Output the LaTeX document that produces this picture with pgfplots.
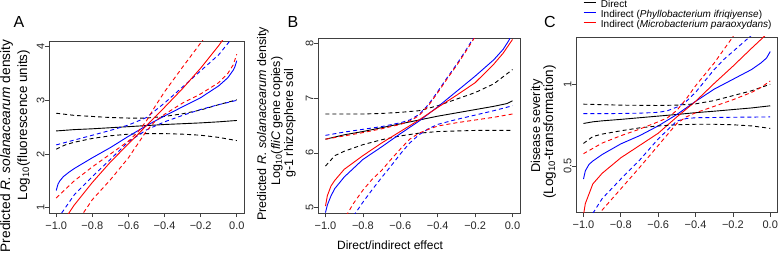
\documentclass[border=0pt]{standalone}
\usepackage{pgfplots}
\pgfplotsset{compat=1.18}
\usepackage{fontspec}
\setmainfont{Liberation Sans}
\definecolor{rblue}{RGB}{0,0,255}
\definecolor{rred}{RGB}{255,0,0}
\pgfplotsset{
  panel/.style={
    scale only axis,
    axis line style={black!75, line width=0.8pt},
    tick style={black!75, line width=0.7pt},
    tick align=outside,
    major tick length=4pt,
    xtick pos=bottom, ytick pos=left,
    xmin=-1.04, xmax=0.04,
    xtick={-1,-0.8,-0.6,-0.4,-0.2,0},
    xticklabels={−1.0,−0.8,−0.6,−0.4,−0.2,0.0},
    ticklabel style={font=\fontsize{11}{11}\selectfont, text=black!85},
    yticklabel style={rotate=90, anchor=south},
    yticklabel shift=-3pt,
    xticklabel style={anchor=north, yshift=-1pt},
    every axis plot/.append style={line width=0.9pt},
  },
  dsh/.style={dash pattern=on 4pt off 3pt},
}
\begin{document}
\begin{tikzpicture}[x=1pt,y=1pt]
\useasboundingbox (0,0) rectangle (778,252);
% ---------------- Panel A ----------------
\begin{axis}[panel, at={(49pt,39pt)}, anchor=south west, width=195pt, height=172pt,
  ymin=0.901, ymax=4.106, ytick={1,2,3,4}, yticklabels={1,2,3,4}]
\addplot[black] coordinates {(-1,2.43) (-0.9,2.455) (-0.8,2.47) (-0.7,2.49) (-0.6,2.51) (-0.5,2.53) (-0.4,2.55) (-0.3,2.565) (-0.2,2.58) (-0.1,2.60) (0,2.625)};
\addplot[black,dsh] coordinates {(-1,2.76) (-0.9,2.72) (-0.8,2.70) (-0.7,2.68) (-0.6,2.67) (-0.5,2.67) (-0.4,2.70) (-0.3,2.75) (-0.2,2.82) (-0.1,2.92) (0,3.01)};
\addplot[black,dsh] coordinates {(-1,2.09) (-0.95,2.17) (-0.9,2.22) (-0.8,2.29) (-0.7,2.34) (-0.6,2.37) (-0.5,2.38) (-0.4,2.38) (-0.3,2.37) (-0.2,2.35) (-0.1,2.31) (0,2.25)};
\addplot[rblue] coordinates {(-1,1.32) (-0.99,1.44) (-0.98,1.50) (-0.96,1.58) (-0.93,1.66) (-0.9,1.73) (-0.8,1.93) (-0.7,2.12) (-0.6,2.33) (-0.5,2.53) (-0.4,2.71) (-0.3,2.88) (-0.2,3.05) (-0.1,3.27) (-0.05,3.42) (-0.02,3.56) (-0.01,3.63) (0,3.74)};
\addplot[rblue,dsh] coordinates {(-1,2.17) (-0.9,2.26) (-0.8,2.35) (-0.7,2.44) (-0.6,2.54) (-0.5,2.68) (-0.4,2.95) (-0.3,3.25) (-0.2,3.55) (-0.1,3.85) (-0.04,4.1) (0,4.25)};
\addplot[rblue,dsh] coordinates {(-0.97,0.9) (-0.9,1.24) (-0.8,1.58) (-0.7,1.90) (-0.6,2.23) (-0.5,2.45) (-0.4,2.60) (-0.3,2.72) (-0.2,2.83) (-0.1,2.92) (0,3.0)};
\addplot[rred] coordinates {(-1,0.55) (-0.9,1.05) (-0.8,1.47) (-0.7,1.85) (-0.6,2.19) (-0.5,2.53) (-0.4,2.87) (-0.3,3.22) (-0.2,3.60) (-0.1,4.02) (0,4.5)};
\addplot[rred,dsh] coordinates {(-1,1.18) (-0.9,1.50) (-0.8,1.76) (-0.7,2.0) (-0.6,2.24) (-0.55,2.40) (-0.5,2.62) (-0.45,2.90) (-0.4,3.16) (-0.3,3.62) (-0.2,4.07) (-0.15,4.3)};
\addplot[rred,dsh] coordinates {(-0.87,0.8) (-0.8,1.15) (-0.7,1.52) (-0.6,1.93) (-0.55,2.18) (-0.5,2.43) (-0.45,2.62) (-0.4,2.74) (-0.3,2.95) (-0.2,3.12) (-0.1,3.33) (-0.05,3.50) (-0.02,3.66) (0,3.86)};
\end{axis}
% ---------------- Panel B ----------------
\begin{axis}[panel, at={(318pt,38.7pt)}, anchor=south west, width=202pt, height=175pt,
  ymin=4.898, ymax=8.091, ytick={5,6,7,8}, yticklabels={5,6,7,8}]
\addplot[black] coordinates {(-1,6.25) (-0.9,6.33) (-0.8,6.39) (-0.7,6.46) (-0.6,6.53) (-0.5,6.60) (-0.4,6.67) (-0.3,6.73) (-0.2,6.79) (-0.1,6.85) (-0.03,6.90) (0,6.95)};
\addplot[black,dsh] coordinates {(-1,6.71) (-0.9,6.71) (-0.8,6.71) (-0.7,6.72) (-0.6,6.74) (-0.5,6.77) (-0.4,6.86) (-0.3,6.98) (-0.2,7.10) (-0.1,7.26) (0,7.52)};
\addplot[black,dsh] coordinates {(-1,5.76) (-0.95,5.95) (-0.9,6.03) (-0.8,6.15) (-0.7,6.24) (-0.6,6.31) (-0.5,6.36) (-0.4,6.39) (-0.3,6.40) (-0.2,6.41) (0,6.41)};
\addplot[rblue] coordinates {(-1,4.91) (-0.99,5.05) (-0.97,5.22) (-0.95,5.35) (-0.9,5.56) (-0.8,5.88) (-0.7,6.11) (-0.6,6.35) (-0.5,6.58) (-0.4,6.84) (-0.3,7.12) (-0.2,7.40) (-0.1,7.70) (-0.05,7.89) (-0.02,8.05) (0,8.2)};
\addplot[rblue,dsh] coordinates {(-1,6.32) (-0.9,6.38) (-0.8,6.43) (-0.7,6.48) (-0.6,6.55) (-0.55,6.60) (-0.5,6.70) (-0.45,6.88) (-0.4,7.12) (-0.35,7.37) (-0.3,7.61) (-0.25,7.87) (-0.2,8.15)};
\addplot[rblue,dsh] coordinates {(-0.85,4.85) (-0.8,5.10) (-0.75,5.33) (-0.7,5.55) (-0.65,5.76) (-0.6,5.98) (-0.55,6.18) (-0.5,6.33) (-0.45,6.44) (-0.4,6.52) (-0.3,6.61) (-0.2,6.69) (-0.1,6.77) (0,6.86)};
\addplot[rred] coordinates {(-1,5.03) (-0.99,5.22) (-0.97,5.40) (-0.95,5.50) (-0.9,5.70) (-0.8,5.95) (-0.7,6.18) (-0.6,6.39) (-0.5,6.60) (-0.4,6.83) (-0.3,7.05) (-0.2,7.28) (-0.1,7.62) (-0.05,7.82) (0,8.07)};
\addplot[rred,dsh] coordinates {(-1,6.25) (-0.9,6.31) (-0.8,6.37) (-0.7,6.44) (-0.6,6.52) (-0.55,6.58) (-0.5,6.68) (-0.45,6.86) (-0.4,7.10) (-0.35,7.35) (-0.3,7.59) (-0.25,7.85) (-0.2,8.12)};
\addplot[rred,dsh] coordinates {(-0.89,4.85) (-0.85,5.08) (-0.8,5.32) (-0.75,5.52) (-0.7,5.68) (-0.65,5.88) (-0.6,6.07) (-0.55,6.25) (-0.5,6.36) (-0.45,6.43) (-0.4,6.49) (-0.3,6.55) (-0.2,6.60) (-0.1,6.65) (0,6.71)};
\end{axis}
% ---------------- Panel C ----------------
\begin{axis}[panel, at={(576pt,39.3pt)}, anchor=south west, width=201.7pt, height=175.7pt,
  ymin=0.214, ymax=1.289, ytick={0.5,1}, yticklabels={0.5,1},
  legend style={at={(axis description cs:0.0347,1.21)}, anchor=north west, draw=none, fill=none,
    font=\fontsize{10}{10}\selectfont, row sep=0pt, inner sep=0pt, outer sep=0pt,
    nodes={inner sep=0pt, text height=7.5pt, text depth=2.5pt}},
  legend cell align=left,
  legend image code/.code={\draw[#1, line width=1pt] (0pt,3pt) -- (12pt,3pt); \path (17pt,3pt);}]
\addlegendimage{color=black}
\addlegendentry{Direct}
\addlegendimage{color=rblue}
\addlegendentry{Indirect (\textit{Phyllobacterium ifriqiyense})}
\addlegendimage{color=rred}
\addlegendentry{Indirect (\textit{Microbacterium paraoxydans})}
\addplot[black,forget plot] coordinates {(-1,0.760) (-0.95,0.770) (-0.9,0.776) (-0.8,0.785) (-0.7,0.795) (-0.6,0.805) (-0.5,0.815) (-0.4,0.826) (-0.3,0.835) (-0.2,0.845) (-0.1,0.855) (0,0.868)};
\addplot[rblue,forget plot] coordinates {(-1,0.42) (-0.99,0.47) (-0.97,0.51) (-0.95,0.53) (-0.9,0.57) (-0.8,0.635) (-0.7,0.685) (-0.6,0.745) (-0.5,0.815) (-0.4,0.895) (-0.3,0.97) (-0.2,1.03) (-0.1,1.09) (-0.05,1.13) (-0.02,1.16) (0,1.20)};
\addplot[rred,forget plot] coordinates {(-1,0.2) (-0.99,0.27) (-0.97,0.33) (-0.95,0.39) (-0.9,0.455) (-0.8,0.55) (-0.7,0.625) (-0.6,0.70) (-0.5,0.80) (-0.4,0.895) (-0.3,1.005) (-0.2,1.11) (-0.1,1.22) (-0.03,1.295) (0,1.34)};
\addplot[black,dsh,forget plot] coordinates {(-1,0.878) (-0.8,0.872) (-0.6,0.870) (-0.5,0.872) (-0.4,0.880) (-0.3,0.900) (-0.2,0.930) (-0.1,0.96) (0,1.0)};
\addplot[black,dsh,forget plot] coordinates {(-1,0.638) (-0.95,0.68) (-0.9,0.695) (-0.8,0.715) (-0.7,0.733) (-0.6,0.745) (-0.5,0.752) (-0.4,0.755) (-0.3,0.755) (-0.2,0.752) (-0.1,0.745) (0,0.73)};
\addplot[rblue,dsh,forget plot] coordinates {(-1,0.820) (-0.9,0.820) (-0.8,0.821) (-0.7,0.823) (-0.6,0.828) (-0.55,0.838) (-0.5,0.86) (-0.45,0.895) (-0.4,0.95) (-0.35,1.02) (-0.3,1.09) (-0.25,1.15) (-0.2,1.20) (-0.15,1.25) (-0.1,1.30)};
\addplot[rblue,dsh,forget plot] coordinates {(-0.95,0.21) (-0.9,0.30) (-0.8,0.42) (-0.7,0.535) (-0.6,0.665) (-0.5,0.775) (-0.45,0.79) (-0.4,0.795) (-0.2,0.798) (0,0.80)};
\addplot[rred,dsh,forget plot] coordinates {(-1,0.575) (-0.9,0.64) (-0.8,0.685) (-0.7,0.725) (-0.6,0.77) (-0.55,0.795) (-0.5,0.84) (-0.45,0.91) (-0.4,0.99) (-0.35,1.06) (-0.3,1.13) (-0.25,1.21) (-0.2,1.29) (-0.18,1.33)};
\addplot[rred,dsh,forget plot] coordinates {(-0.92,0.19) (-0.9,0.23) (-0.8,0.36) (-0.7,0.49) (-0.6,0.625) (-0.5,0.76) (-0.45,0.80) (-0.4,0.825) (-0.3,0.865) (-0.2,0.905) (-0.1,0.95) (-0.05,0.98) (0,1.02)};
\end{axis}
% ---------------- labels ----------------
\node[font=\fontsize{16}{16}\selectfont] at (19,230) {A};
\node[font=\fontsize{16}{16}\selectfont] at (293,230) {B};
\node[font=\fontsize{16}{16}\selectfont] at (550,230) {C};
\begin{scope}[every node/.style={rotate=90, anchor=base, inner sep=0pt}]
\node[font=\fontsize{13.7}{13.7}\selectfont] at (10,106) {Predicted \textit{R. solanacearum} density};
\node[font=\fontsize{13.4}{13.4}\selectfont] at (27,127) {Log\textsubscript{10}(fluorescence units)};
\node[font=\fontsize{12.5}{12.5}\selectfont] at (266,128) {Predicted \textit{R. solanacearum} density};
\node[font=\fontsize{12.5}{12.5}\selectfont] at (280,131) {Log\textsubscript{10}(\textit{fliC} gene copies)};
\node[font=\fontsize{12.5}{12.5}\selectfont] at (293,129) {g-1 rhizosphere soil};
\node[font=\fontsize{12.8}{12.8}\selectfont] at (540,126) {Disease severity};
\node[font=\fontsize{13.5}{13.5}\selectfont] at (553,120) {(Log\textsubscript{10}-transformation)};
\end{scope}
\node[font=\fontsize{12}{12}\selectfont, anchor=base] at (390,3) {Direct/indirect effect};
\end{tikzpicture}
\end{document}
